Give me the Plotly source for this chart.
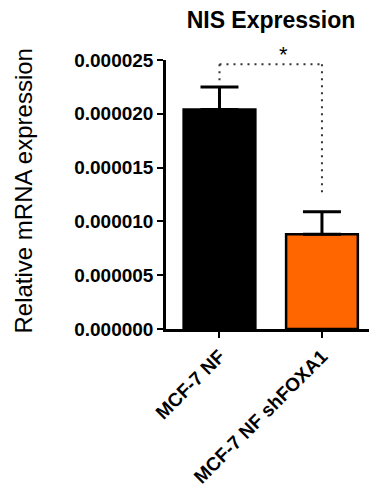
import plotly.graph_objects as go

# Data
categories = ["MCF-7 NF", "MCF-7 NF shFOXA1"]
means = [0.0000204, 0.0000088]
errors = [0.0000021, 0.0000021]
bar_colors = ["#000000", "#FF6600"]
ytick_vals = [0, 0.000005, 0.00001, 0.000015, 0.00002, 0.000025]
ytick_text = ["0.000000", "0.000005", "0.000010", "0.000015", "0.000020", "0.000025"]
sig_label = "*"
sig_y = 0.0000246

FONT = "Liberation Sans, Arial, sans-serif"
xpos = list(range(len(categories)))

fig = go.Figure()
fig.add_trace(go.Bar(
    x=xpos, y=means, width=0.70,
    marker=dict(color=bar_colors, line=dict(color="black", width=2.5)),
    error_y=dict(type="data", array=errors, arrayminus=[0] * len(errors),
                 symmetric=False, color="black", thickness=3, width=19),
    showlegend=False,
))

# significance bracket (dotted)
dot = dict(color="#333333", width=2, dash="2px,5px")
top_left = means[0] + errors[0] + 0.0000006
top_right = means[1] + errors[1] + 0.0000017
fig.add_shape(type="line", x0=xpos[0], x1=xpos[1], y0=sig_y, y1=sig_y, line=dot)
fig.add_shape(type="line", x0=xpos[0], x1=xpos[0], y0=sig_y, y1=top_left, line=dot)
fig.add_shape(type="line", x0=xpos[1], x1=xpos[1], y0=sig_y, y1=top_right, line=dot)
fig.add_annotation(x=0.62, y=sig_y, text=sig_label, showarrow=False,
                   yanchor="bottom", yshift=-5,
                   font=dict(family=FONT, size=22, color="black"))

# y-axis title
fig.add_annotation(xref="paper", yref="paper", x=(24 - 166) / 203, y=0.511,
                   text="Relative mRNA expression", textangle=-90, showarrow=False,
                   xanchor="center", yanchor="middle",
                   font=dict(family=FONT, size=24, color="black"))

fig.update_layout(
    width=371, height=490,
    margin=dict(l=166, r=2, t=60, b=161),
    paper_bgcolor="white", plot_bgcolor="white",
    title=dict(text="NIS Expression", x=271 / 371, xanchor="center",
               y=1 - 20 / 490, yanchor="middle", yref="container", xref="container",
               font=dict(family=FONT, size=23, color="black", weight="bold")),
    xaxis=dict(range=[-0.522, 1.459], tickvals=xpos, ticktext=categories,
               tickangle=-45, showgrid=False, zeroline=False, automargin=False,
               showline=True, linecolor="black", linewidth=2.5,
               ticks="outside", ticklen=6, tickwidth=2, tickcolor="black",
               tickfont=dict(family=FONT, size=19, color="black", weight="bold")),
    yaxis=dict(range=[0, 0.000025], tickvals=ytick_vals, ticktext=ytick_text,
               showgrid=False, zeroline=False, automargin=False,
               showline=True, linecolor="black", linewidth=2.5,
               ticks="outside", ticklen=6, tickwidth=2, tickcolor="black",
               tickfont=dict(family=FONT, size=19, color="black", weight="bold")),
)

fig.write_html("out.html")
